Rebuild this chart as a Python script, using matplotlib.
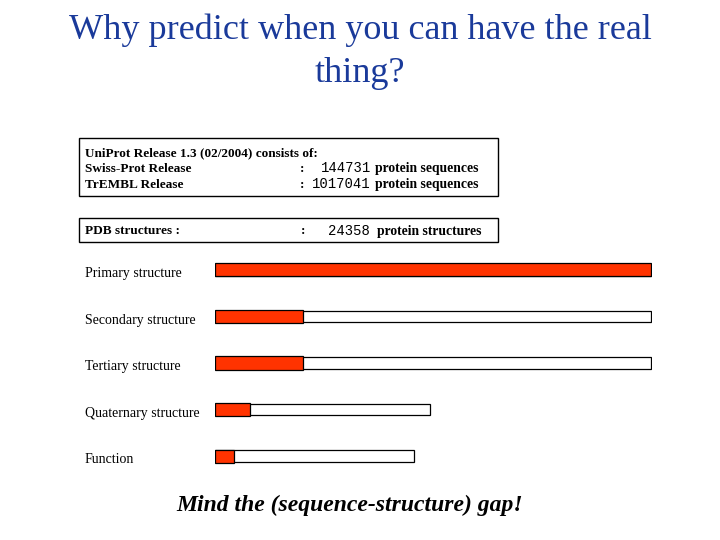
import matplotlib
matplotlib.use("Agg")
import matplotlib.pyplot as plt
from matplotlib.patches import Rectangle

# data
categories = ["Primary structure", "Secondary structure", "Tertiary structure",
              "Quaternary structure", "Function"]
known = [100, 20.2, 20.2, 8.0, 4.4]        # experimentally known (red)
total = [100, 100, 100, 49.3, 45.6]        # full bar length (outline)
db_names = ["Swiss-Prot Release", "TrEMBL Release"]
db_counts = ["144731", "1017041"]
pdb_count = "24358"

RED = "#ff3300"
BLUE = "#1a3a9a"
SERIF = "Liberation Serif"
MONO = "Liberation Mono"

fig = plt.figure(figsize=(7.2, 5.4), dpi=100)

# overlay in pixel coordinates for text and boxes
ov = fig.add_axes([0, 0, 1, 1])
ov.set_xlim(0, 720)
ov.set_ylim(540, 0)
ov.axis("off")

ov.text(360, 30, "Why predict when you can have the real", ha="center", va="center",
        fontsize=26, family=SERIF, color=BLUE)
ov.text(360, 73, "thing?", ha="center", va="center",
        fontsize=26, family=SERIF, color=BLUE)

# info boxes
ov.add_patch(Rectangle((79, 138), 419, 58, fill=False, lw=1.0, ec="black"))
ov.add_patch(Rectangle((79, 218), 419, 24, fill=False, lw=1.0, ec="black"))
bold = dict(family=SERIF, fontsize=9.5, fontweight="bold", va="center")
ov.text(85, 153, "UniProt Release 1.3 (02/2004) consists of:", ha="left", **bold)
for i, (name, cnt) in enumerate(zip(db_names, db_counts)):
    y = 168.5 + 16 * i
    ov.text(85, y, name, ha="left", **bold)
    ov.text(300, y, ":", ha="left", **bold)
    ov.text(371, y, cnt, ha="right", va="center", family=MONO, fontsize=10)
    ov.text(375, y, "protein sequences", ha="left", fontsize=9.8,
            **{k: v for k, v in bold.items() if k != "fontsize"})
ov.text(85, 231, "PDB structures :", ha="left", **bold)
ov.text(301, 231, ":", ha="left", **bold)
ov.text(370, 231, pdb_count, ha="right", va="center", family=MONO, fontsize=10)
ov.text(377, 231, "protein structures", ha="left", fontsize=9.8,
        **{k: v for k, v in bold.items() if k != "fontsize"})

ov.text(350, 505, "Mind the (sequence-structure) gap!", ha="center", va="center",
        family=SERIF, fontsize=17, fontweight="bold", style="italic")

# bars
top_px, bot_px = 242, 484
ax = fig.add_axes([215 / 720, 1 - bot_px / 540, 437 / 720, (bot_px - top_px) / 540])
ax.set_xlim(0, 100.2)
n = len(categories)
ax.set_ylim(n - 0.5 + 0.1, -0.5 - 0.1)
ypos = list(range(n))
ax.barh(ypos, total, height=0.24, left=0, color="white", edgecolor="black", lw=0.9)
ax.barh(ypos, known, height=0.28, left=0, color=RED, edgecolor="black", lw=0.9)
ax.axis("off")
for y, lab in zip(ypos, categories):
    ax.text(-130 / 436 * 100, y + 0.08, lab, ha="left", va="center",
            family=SERIF, fontsize=10)

fig.savefig("out.png", dpi=100)
